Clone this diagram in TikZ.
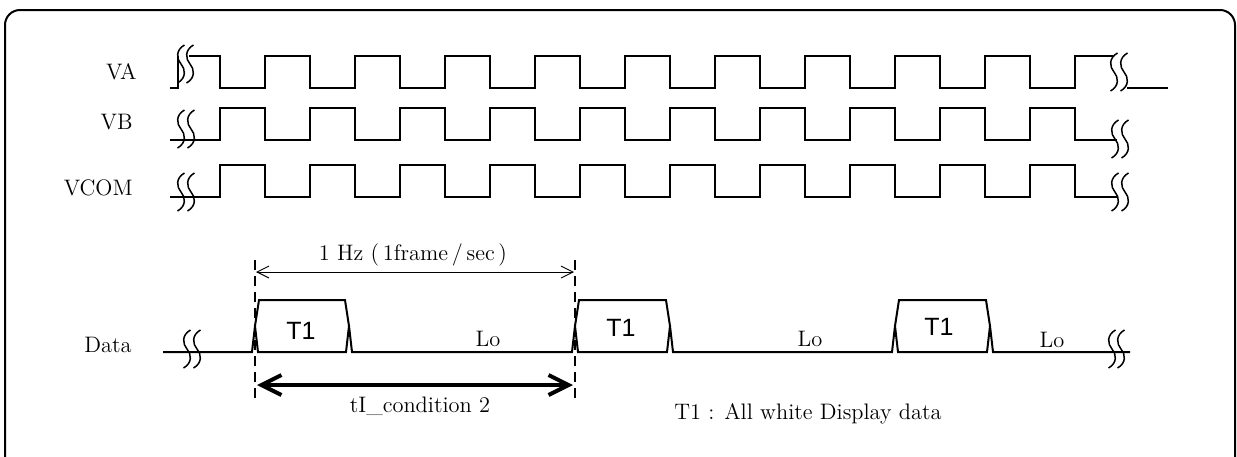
\documentclass[tikz,border=0pt]{standalone}
\usepackage{fontspec}
\newfontfamily\sansT{Liberation Sans}
\usetikzlibrary{arrows.meta}
\tikzset{
  sig/.style={line width=1pt,line join=miter},
  frm/.style={line width=1pt,rounded corners=7.5pt},
  guide/.style={line width=0.9pt,dash pattern=on 5pt off 3pt},
  thinarr/.style={line width=0.45pt,{Straight Barb[length=6pt,width=6pt]}-{Straight Barb[length=6pt,width=6pt]}},
  thickarr/.style={line width=2pt,{Straight Barb[length=10pt,width=10pt]}-{Straight Barb[length=10pt,width=10pt]}},
  lbl/.style={font=\fontsize{11.2}{13}\selectfont,inner sep=0pt},
  tlbl/.style={font=\sansT\fontsize{12.5}{14}\selectfont,inner sep=0pt},
  brk/.pic={\draw[line width=0.75pt] (3.5,-19) .. controls (-5.5,-14) and (-4.5,-5) .. (0,0) .. controls (4.5,5) and (5.5,14) .. (-3.5,19);}
}
\begin{document}
\begin{tikzpicture}[x=0.5pt,y=-0.5pt]
\useasboundingbox (0,0) rectangle (1237,456);
% frame
\draw[frm] (5,470) -- (5,10) -- (1235,10) -- (1235,470);
% labels
\node[lbl,anchor=east] (lva) at (137,72) {VA};
\node[lbl,anchor=east] (lvb) at (133,122) {VB};
\node[lbl,anchor=east] (lvc) at (133,188) {VCOM};
\node[lbl,anchor=east] (ldt) at (132,345) {Data};
% VA
\draw[sig] (170,88) -- (178,88) -- (178,56);
\draw[sig] (189,56) -- (220,56)
  foreach \k in {0,...,8} { -- ({220+90*\k},88) -- ({265+90*\k},88) -- ({265+90*\k},56) -- ({310+90*\k},56) }
  -- (1030,88) -- (1075,88) -- (1075,56) -- (1113,56);
\draw[sig] (1127,88) -- (1168,88);
\pic at (181,64) {brk}; \pic at (190,64) {brk};
\pic at (1114,72) {brk}; \pic at (1124,72) {brk};
% VB
\draw[sig] (170,140)
  foreach \k in {0,...,9} { -- ({220+90*\k},140) -- ({220+90*\k},108) -- ({265+90*\k},108) -- ({265+90*\k},140) }
  -- (1117,140);
\pic at (181,129) {brk}; \pic at (191,129) {brk};
\pic at (1115,139) {brk}; \pic at (1125,139) {brk};
% VCOM
\draw[sig] (170,197)
  foreach \k in {0,...,9} { -- ({220+90*\k},197) -- ({220+90*\k},165) -- ({265+90*\k},165) -- ({265+90*\k},197) }
  -- (1117,197);
\pic at (181,192) {brk}; \pic at (191,192) {brk};
\pic at (1115,192) {brk}; \pic at (1125,192) {brk};
% Data bus
\draw[sig] (163,352) -- (252,352) -- (255,326);
\draw[sig] (255,326) -- (259,300) -- (345,300) -- (349,326) -- (346,352) -- (258,352) -- cycle;
\draw[sig] (349,326) -- (352,352) -- (572,352) -- (575,326);
\draw[sig] (575,326) -- (579,300) -- (666,300) -- (670,326) -- (667,352) -- (578,352) -- cycle;
\draw[sig] (670,326) -- (673,352) -- (892,352) -- (895,326);
\draw[sig] (895,326) -- (899,300) -- (986,300) -- (990,326) -- (987,352) -- (898,352) -- cycle;
\draw[sig] (990,326) -- (993,352) -- (1130,352);
\pic at (187,349) {brk}; \pic at (197,349) {brk};
\pic at (1112,349) {brk}; \pic at (1121,349) {brk};
% bus texts
\node[tlbl] (t1a) at (301,331) {T1};
\node[tlbl] (t1b) at (621,328) {T1};
\node[tlbl] (t1c) at (939,327) {T1};
\node[lbl] (loa) at (488,339) {Lo};
\node[lbl] (lob) at (810,339) {Lo};
\node[lbl] (loc) at (1052,340) {Lo};
% guides
\coordinate (ga) at (255,260); \coordinate (gb) at (255,398);
\coordinate (gc) at (575,260); \coordinate (gd) at (575,398);
\draw[guide] (ga) -- (gb);
\draw[guide] (gc) -- (gd);
\coordinate (ha) at (256,272); \coordinate (hb) at (574,272);
\draw[thinarr] (ha) -- (hb);
\node[lbl,anchor=base] (hz) at (413,260) {1 Hz (\,1frame\,/\,sec\,)};
\coordinate (ka) at (257,385); \coordinate (kb) at (573,385);
\draw[thickarr] (ka) -- (kb);
\node[lbl,anchor=base] (tc) at (420,412) {tI\_condition 2};
\node[lbl,anchor=base] (note) at (808,419) {T1 : All white Display data};
\end{tikzpicture}
\end{document}
